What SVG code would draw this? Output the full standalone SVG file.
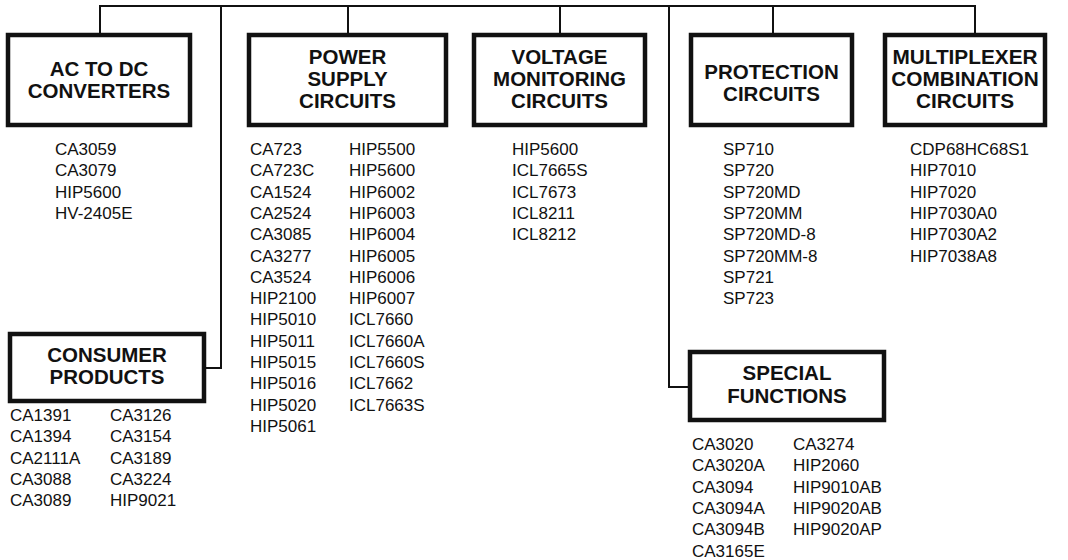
<svg xmlns="http://www.w3.org/2000/svg" width="1068" height="560" viewBox="0 0 1068 560">
<style>
.box{fill:none;stroke:#111;stroke-width:4.5}
.ln{fill:none;stroke:#111;stroke-width:2}
.t{font-family:"Liberation Sans",Arial,sans-serif;font-weight:bold;font-size:20.5px;fill:#111;text-anchor:middle}
.tw{font-size:20.8px}
.l{font-family:"Liberation Sans",Arial,sans-serif;font-size:17px;fill:#111}
</style>
<rect width="1068" height="560" fill="#fff"/>
<g id="connectors">
<path class="ln" d="M100,35 V6 H975 V35"/>
<path class="ln" d="M348,6 V35"/>
<path class="ln" d="M560,6 V35"/>
<path class="ln" d="M773,6 V35"/>
<path class="ln" d="M221,6 V368 H206"/>
<path class="ln" d="M669,6 V387 H688"/>
</g>
<g id="ac-dc">
<rect class="box" x="8" y="35" width="182" height="90"/>
<text class="t" x="99" y="76">AC TO DC</text>
<text class="t" x="99" y="98">CONVERTERS</text>
<text class="l"><tspan x="55" y="155">CA3059</tspan><tspan x="55" y="176.3">CA3079</tspan><tspan x="55" y="197.6">HIP5600</tspan><tspan x="55" y="218.9">HV-2405E</tspan></text>
</g>
<g id="power-supply">
<rect class="box" x="249" y="35" width="197" height="90"/>
<text class="t" x="347.5" y="64">POWER</text>
<text class="t" x="347.5" y="86">SUPPLY</text>
<text class="t" x="347.5" y="108">CIRCUITS</text>
<text class="l"><tspan x="250" y="155">CA723</tspan><tspan x="250" y="176.3">CA723C</tspan><tspan x="250" y="197.6">CA1524</tspan><tspan x="250" y="218.9">CA2524</tspan><tspan x="250" y="240.2">CA3085</tspan><tspan x="250" y="261.5">CA3277</tspan><tspan x="250" y="282.8">CA3524</tspan><tspan x="250" y="304.1">HIP2100</tspan><tspan x="250" y="325.4">HIP5010</tspan><tspan x="250" y="346.7">HIP5011</tspan><tspan x="250" y="368">HIP5015</tspan><tspan x="250" y="389.3">HIP5016</tspan><tspan x="250" y="410.6">HIP5020</tspan><tspan x="250" y="431.9">HIP5061</tspan></text>
<text class="l"><tspan x="349" y="155">HIP5500</tspan><tspan x="349" y="176.3">HIP5600</tspan><tspan x="349" y="197.6">HIP6002</tspan><tspan x="349" y="218.9">HIP6003</tspan><tspan x="349" y="240.2">HIP6004</tspan><tspan x="349" y="261.5">HIP6005</tspan><tspan x="349" y="282.8">HIP6006</tspan><tspan x="349" y="304.1">HIP6007</tspan><tspan x="349" y="325.4">ICL7660</tspan><tspan x="349" y="346.7">ICL7660A</tspan><tspan x="349" y="368">ICL7660S</tspan><tspan x="349" y="389.3">ICL7662</tspan><tspan x="349" y="410.6">ICL7663S</tspan></text>
</g>
<g id="voltage-monitoring">
<rect class="box" x="474" y="35" width="171" height="90"/>
<text class="t" x="559.5" y="64">VOLTAGE</text>
<text class="t" x="559.5" y="86">MONITORING</text>
<text class="t" x="559.5" y="108">CIRCUITS</text>
<text class="l"><tspan x="512" y="155">HIP5600</tspan><tspan x="512" y="176.3">ICL7665S</tspan><tspan x="512" y="197.6">ICL7673</tspan><tspan x="512" y="218.9">ICL8211</tspan><tspan x="512" y="240.2">ICL8212</tspan></text>
</g>
<g id="protection">
<rect class="box" x="691" y="35" width="161" height="90"/>
<text class="t" x="771.5" y="79">PROTECTION</text>
<text class="t" x="771.5" y="101">CIRCUITS</text>
<text class="l"><tspan x="723" y="155">SP710</tspan><tspan x="723" y="176.3">SP720</tspan><tspan x="723" y="197.6">SP720MD</tspan><tspan x="723" y="218.9">SP720MM</tspan><tspan x="723" y="240.2">SP720MD-8</tspan><tspan x="723" y="261.5">SP720MM-8</tspan><tspan x="723" y="282.8">SP721</tspan><tspan x="723" y="304.1">SP723</tspan></text>
</g>
<g id="multiplexer">
<rect class="box" x="885" y="35" width="160" height="90"/>
<text class="t tw" x="965" y="64">MULTIPLEXER</text>
<text class="t tw" x="965" y="86">COMBINATION</text>
<text class="t tw" x="965" y="108">CIRCUITS</text>
<text class="l"><tspan x="910" y="155">CDP68HC68S1</tspan><tspan x="910" y="176.3">HIP7010</tspan><tspan x="910" y="197.6">HIP7020</tspan><tspan x="910" y="218.9">HIP7030A0</tspan><tspan x="910" y="240.2">HIP7030A2</tspan><tspan x="910" y="261.5">HIP7038A8</tspan></text>
</g>
<g id="consumer-products">
<rect class="box" x="10" y="334" width="194" height="67"/>
<text class="t" x="107" y="362">CONSUMER</text>
<text class="t" x="107" y="384">PRODUCTS</text>
<text class="l"><tspan x="10" y="421">CA1391</tspan><tspan x="10" y="442.3">CA1394</tspan><tspan x="10" y="463.6">CA2111A</tspan><tspan x="10" y="484.9">CA3088</tspan><tspan x="10" y="506.2">CA3089</tspan></text>
<text class="l"><tspan x="110" y="421">CA3126</tspan><tspan x="110" y="442.3">CA3154</tspan><tspan x="110" y="463.6">CA3189</tspan><tspan x="110" y="484.9">CA3224</tspan><tspan x="110" y="506.2">HIP9021</tspan></text>
</g>
<g id="special-functions">
<rect class="box" x="690" y="352" width="194" height="68"/>
<text class="t" x="787" y="380">SPECIAL</text>
<text class="t" x="787" y="403">FUNCTIONS</text>
<text class="l"><tspan x="692" y="450">CA3020</tspan><tspan x="692" y="471.3">CA3020A</tspan><tspan x="692" y="492.6">CA3094</tspan><tspan x="692" y="513.9">CA3094A</tspan><tspan x="692" y="535.2">CA3094B</tspan><tspan x="692" y="556.5">CA3165E</tspan></text>
<text class="l"><tspan x="793" y="450">CA3274</tspan><tspan x="793" y="471.3">HIP2060</tspan><tspan x="793" y="492.6">HIP9010AB</tspan><tspan x="793" y="513.9">HIP9020AB</tspan><tspan x="793" y="535.2">HIP9020AP</tspan></text>
</g>
</svg>
